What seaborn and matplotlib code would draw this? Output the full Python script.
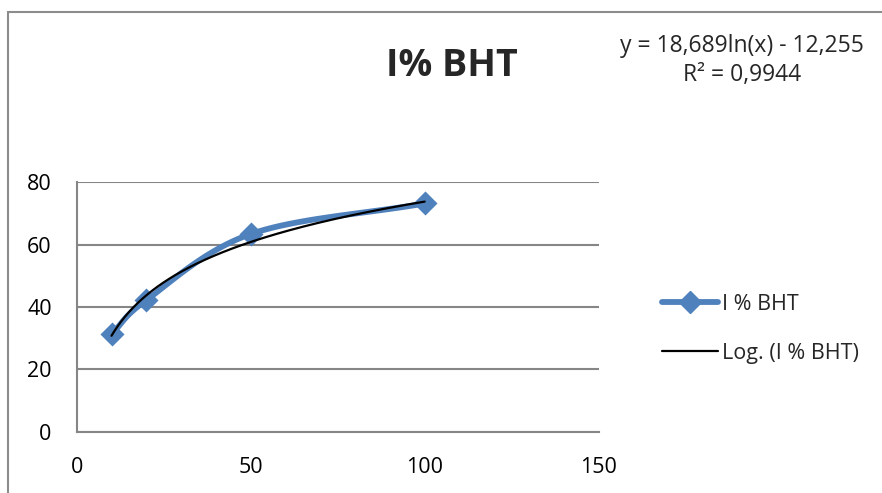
import numpy as np
import pandas as pd
import matplotlib
matplotlib.use("Agg")
import matplotlib.pyplot as plt
import seaborn as sns
from matplotlib.lines import Line2D
from matplotlib.patches import Rectangle

# ---- data ----
concentration = [10, 20, 50, 100]
inhibition = [31.3, 42.2, 63.4, 73.2]
series_name = "I % BHT"
trend_name = "Log. (I % BHT)"
title = "I% BHT"
coef_a = 18.689
coef_b = -12.255
eq_text = "y = 18,689ln(x) - 12,255"
r2_text = "R² = 0,9944"
x_ticks = [0, 50, 100, 150]
y_ticks = [0, 20, 40, 60, 80]

sns.set_style("white")
plt.rcParams['font.family'] = ['Open Sans', 'DejaVu Sans']

blue = "#4F81BD"
grid_c = "#868686"

df = pd.DataFrame({"x": concentration, "y": inhibition})

fig = plt.figure(figsize=(8.82, 4.93), dpi=100)
ax = fig.add_axes([76.7 / 882, 1 - 431.7 / 493, (598.7 - 76.7) / 882, (431.7 - 182.3) / 493])

# chart frame
fig.patches.append(Rectangle((8 / 882, -0.1), 1.2, (493 - 12) / 493 + 0.1,
                             transform=fig.transFigure, fill=False,
                             edgecolor="#8c8c8c", linewidth=1.5))


def catmull_rom(xs, ys, n=40):
    xs = np.asarray(xs, float)
    ys = np.asarray(ys, float)
    px = np.concatenate([[2 * xs[0] - xs[1]], xs, [2 * xs[-1] - xs[-2]]])
    py = np.concatenate([[2 * ys[0] - ys[1]], ys, [2 * ys[-1] - ys[-2]]])
    outx, outy = [], []
    for i in range(1, len(px) - 2):
        t = np.linspace(0, 1, n)
        for arr, out in ((px, outx), (py, outy)):
            p0, p1, p2, p3 = arr[i - 1], arr[i], arr[i + 1], arr[i + 2]
            out.extend(0.5 * ((2 * p1) + (-p0 + p2) * t +
                              (2 * p0 - 5 * p1 + 4 * p2 - p3) * t ** 2 +
                              (-p0 + 3 * p1 - 3 * p2 + p3) * t ** 3))
    return np.array(outx), np.array(outy)


sx, sy = catmull_rom(concentration, inhibition)
ax.plot(sx, sy, color=blue, lw=4.2, solid_capstyle="round", zorder=3)
sns.scatterplot(data=df, x="x", y="y", marker="D", s=150, color=blue,
                edgecolor=blue, linewidth=0, ax=ax, zorder=4, legend=False)

tx = np.linspace(min(concentration), max(concentration), 300)
ty = coef_a * np.log(tx) + coef_b
ax.plot(tx, ty, color="black", lw=1.6, zorder=5)

ax.set_xlim(0, 150)
ax.set_ylim(0, 80)
ax.set_xticks(x_ticks)
ax.set_yticks(y_ticks)
ax.set_xlabel("")
ax.set_ylabel("")
ax.grid(axis="y", color=grid_c, lw=1.5)
ax.grid(axis="x", visible=False)
for s in ["top", "right"]:
    ax.spines[s].set_visible(False)
for s in ["left", "bottom"]:
    ax.spines[s].set_color(grid_c)
    ax.spines[s].set_linewidth(1.5)
ax.tick_params(axis="both", which="major", length=6, width=1.5, color=grid_c,
               labelsize=15.5, labelcolor="black", direction="out", pad=4)
ax.tick_params(axis="x", pad=12)
ax.tick_params(axis="y", pad=12)
ax.set_axisbelow(True)

fig.text(452 / 882, 1 - 66 / 493, title, ha="center", va="center",
         fontsize=27, fontweight="bold")
fig.text(742 / 882, 1 - 46 / 493, eq_text, ha="center", va="center", fontsize=16.5)
fig.text(742 / 882, 1 - 75 / 493, r2_text, ha="center", va="center", fontsize=16.5)

handles = [Line2D([], [], color=blue, lw=4.2, marker="D", markersize=11),
           Line2D([], [], color="black", lw=1.6)]
fig.legend(handles, [series_name, trend_name], loc="center left",
           bbox_to_anchor=(643 / 882, 1 - 329 / 493), frameon=False,
           fontsize=15.5, handlelength=2.6, handletextpad=0.15, labelspacing=1.3)

fig.savefig("out.png", dpi=100)
